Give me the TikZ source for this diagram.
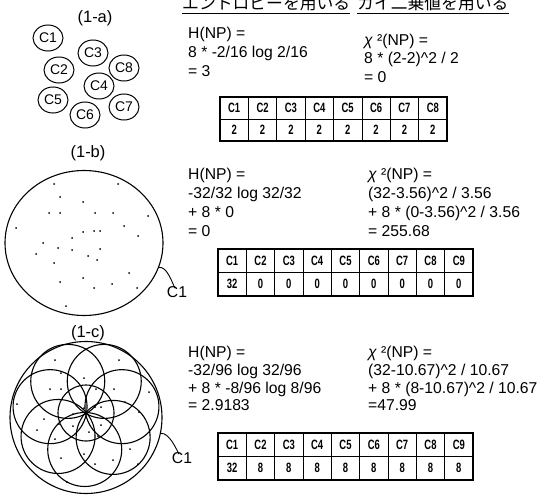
\documentclass[tikz,border=0pt]{standalone}
\usepackage{fontspec}
\setmainfont{Liberation Sans}
\newfontfamily\jpfont{Noto Sans CJK JP}
\newfontfamily\tabfont[FakeStretch=0.7]{Liberation Sans}
\usetikzlibrary{shapes.geometric}
\newcommand\ptsB{(54,184),(118,184),(60,197),(83,202),(49,213),(60,213),(95,213),(113,213),(148,216),(16,228),(124,226),(83,232),(94,231),(100,231),(72,238),(138,236),(43,243),(58,248),(72,250),(100,249),(36,254),(88,256),(97,260),(54,263),(129,273),(83,278),(60,282),(94,288),(112,284),(137,288),(66,306)}
\newcommand\sqr{\textasciicircum}
\begin{document}
\begin{tikzpicture}[x=1pt,y=-1pt,
  txt/.style={anchor=base west, inner sep=0, font=\fontsize{15.7}{18}\selectfont},
  ttl/.style={inner sep=0, font=\fontsize{16.5}{18}\selectfont},
  jp/.style={anchor=base west, inner sep=0, font=\jpfont\fontsize{16.8}{18}\selectfont},
  small/.style={draw, ellipse, line width=1, minimum width=30, minimum height=26, inner sep=0, font=\fontsize{14}{15}\selectfont},
  cell/.style={draw, line width=0.7, inner sep=0, minimum width=28.35, font={\tabfont\bfseries\fontsize{13.5}{14}\selectfont}},
  frame/.style={draw, line width=2.2},
  ring/.style={draw, line width=1.1, inner sep=0},
  lead/.style={line width=0.9},
  pt/.style={fill=black}
]
\useasboundingbox (0,0) rectangle (558,495);

% headers
\node[jp] (hj1) at (182,10) {エントロピーを用いる};
\node[jp] (hj2) at (357,10) {カイ二乗値を用いる};
\draw[line width=1.1] ([yshift=-3.5pt]hj1.base west) -- ([yshift=-3.5pt]hj1.base east);
\draw[line width=1.1] ([yshift=-3.5pt]hj2.base west) -- ([yshift=-3.5pt]hj2.base east);

% ---------- (1-a)
\node[ttl] (la) at (95,18) {(1-a)};
\node[small] (a1) at (48,38) {C1};
\node[small] (a3) at (93,53) {C3};
\node[small] (a2) at (59,70) {C2};
\node[small] (a8) at (124,68) {C8};
\node[small] (a4) at (99,86) {C4};
\node[small] (a5) at (53,100) {C5};
\node[small] (a6) at (85,115) {C6};
\node[small] (a7) at (124,107) {C7};

\node[txt] (h1a) at (188,38.5) {H(NP) =};
\node[txt] (h1b) at (188,57.5) {8 * -2/16 log 2/16};
\node[txt] (h1c) at (188,77) {= 3};
\node[txt] (x1a) at (364,45.5) {{\itshape χ} ²(NP) =};
\node[txt] (x1b) at (364,63.5) {8 * (2-2)\sqr2 / 2};
\node[txt] (x1c) at (364,82.5) {= 0};

\foreach \v [count=\i] in {2,2,2,2,2,2,2,2} {
  \node[cell, minimum height=22] (ta-h\i) at ({220+28.375*(\i-0.5)},108) {C\i};
  \node[cell, minimum height=22] (ta-v\i) at ({220+28.375*(\i-0.5)},130) {\v};
}
\draw[frame] (ta-h1.north west) rectangle (ta-v8.south east);

% ---------- (1-b)
\node[ttl] (lb) at (88,153) {(1-b)};
\node[ring, ellipse, minimum width=158, minimum height=145] (cb) at (84,243) {};
\foreach \p in \ptsB { \fill[pt] \p circle (1); }
\node[inner sep=0, font=\fontsize{15.7}{18}\selectfont] (cb1) at (177,292) {C1};
\draw[lead] (cb.-18) .. controls +(8,-1) and +(-3,-6) .. ([shift={(-2,2)}]cb1.north);

\node[txt] (h2a) at (188,179.5) {H(NP) =};
\node[txt] (h2b) at (188,198.5) {-32/32 log 32/32};
\node[txt] (h2c) at (188,217.5) {+ 8 * 0};
\node[txt] (h2d) at (188,236.5) {= 0};
\node[txt] (x2a) at (368,179.5) {{\itshape χ} ²(NP) =};
\node[txt] (x2b) at (368,198.5) {(32-3.56)\sqr2 / 3.56};
\node[txt] (x2c) at (368,217.5) {+ 8 * (0-3.56)\sqr2 / 3.56};
\node[txt] (x2d) at (368,236.5) {= 255.68};

\foreach \v [count=\i] in {32,0,0,0,0,0,0,0,0} {
  \node[cell, minimum height=23.5] (tb-h\i) at ({218+28.33*(\i-0.5)},260.75) {C\i};
  \node[cell, minimum height=23.5] (tb-v\i) at ({218+28.33*(\i-0.5)},284.25) {\v};
}
\draw[frame] (tb-h1.north west) rectangle (tb-v9.south east);

% ---------- (1-c)
\node[ttl] (lc) at (88,333) {(1-c)};
\node[ring, circle, minimum size=152] (cc) at (86,417.5) {};
\coordinate (P) at (86,413);
\foreach \a [count=\i] in {60,120,170,220,268,318,10} {
  \node[ring, circle, minimum size=74] (pet\i) at ([shift={(\a:36.5pt)}]P) {};
}
\node[ring, circle, minimum size=56] (pc) at (P) {};
\begin{scope}[shift={(1,176)}]
\foreach \p in \ptsB { \fill[pt] \p circle (1); }
\end{scope}
\node[inner sep=0, font=\fontsize{15.7}{18}\selectfont] (cc1) at (182,458) {C1};
\draw[lead] (cc.-12) .. controls +(8,-1) and +(-3,-6) .. ([shift={(-3,2)}]cc1.north);

\node[txt] (h3a) at (188,357.5) {H(NP) =};
\node[txt] (h3b) at (188,375.5) {-32/96 log 32/96};
\node[txt] (h3c) at (188,393) {+ 8 * -8/96 log 8/96};
\node[txt] (h3d) at (188,410.5) {= 2.9183};
\node[txt] (x3a) at (368,357.5) {{\itshape χ} ²(NP) =};
\node[txt] (x3b) at (368,375.5) {(32-10.67)\sqr2 / 10.67};
\node[txt] (x3c) at (368,393) {+ 8 * (8-10.67)\sqr2 / 10.67};
\node[txt] (x3d) at (368,410.5) {=47.99};

\foreach \v [count=\i] in {32,8,8,8,8,8,8,8,8} {
  \node[cell, minimum height=23.5] (tc-h\i) at ({218+28.33*(\i-0.5)},444.75) {C\i};
  \node[cell, minimum height=23.5] (tc-v\i) at ({218+28.33*(\i-0.5)},468.25) {\v};
}
\draw[frame] (tc-h1.north west) rectangle (tc-v9.south east);
\end{tikzpicture}
\end{document}
